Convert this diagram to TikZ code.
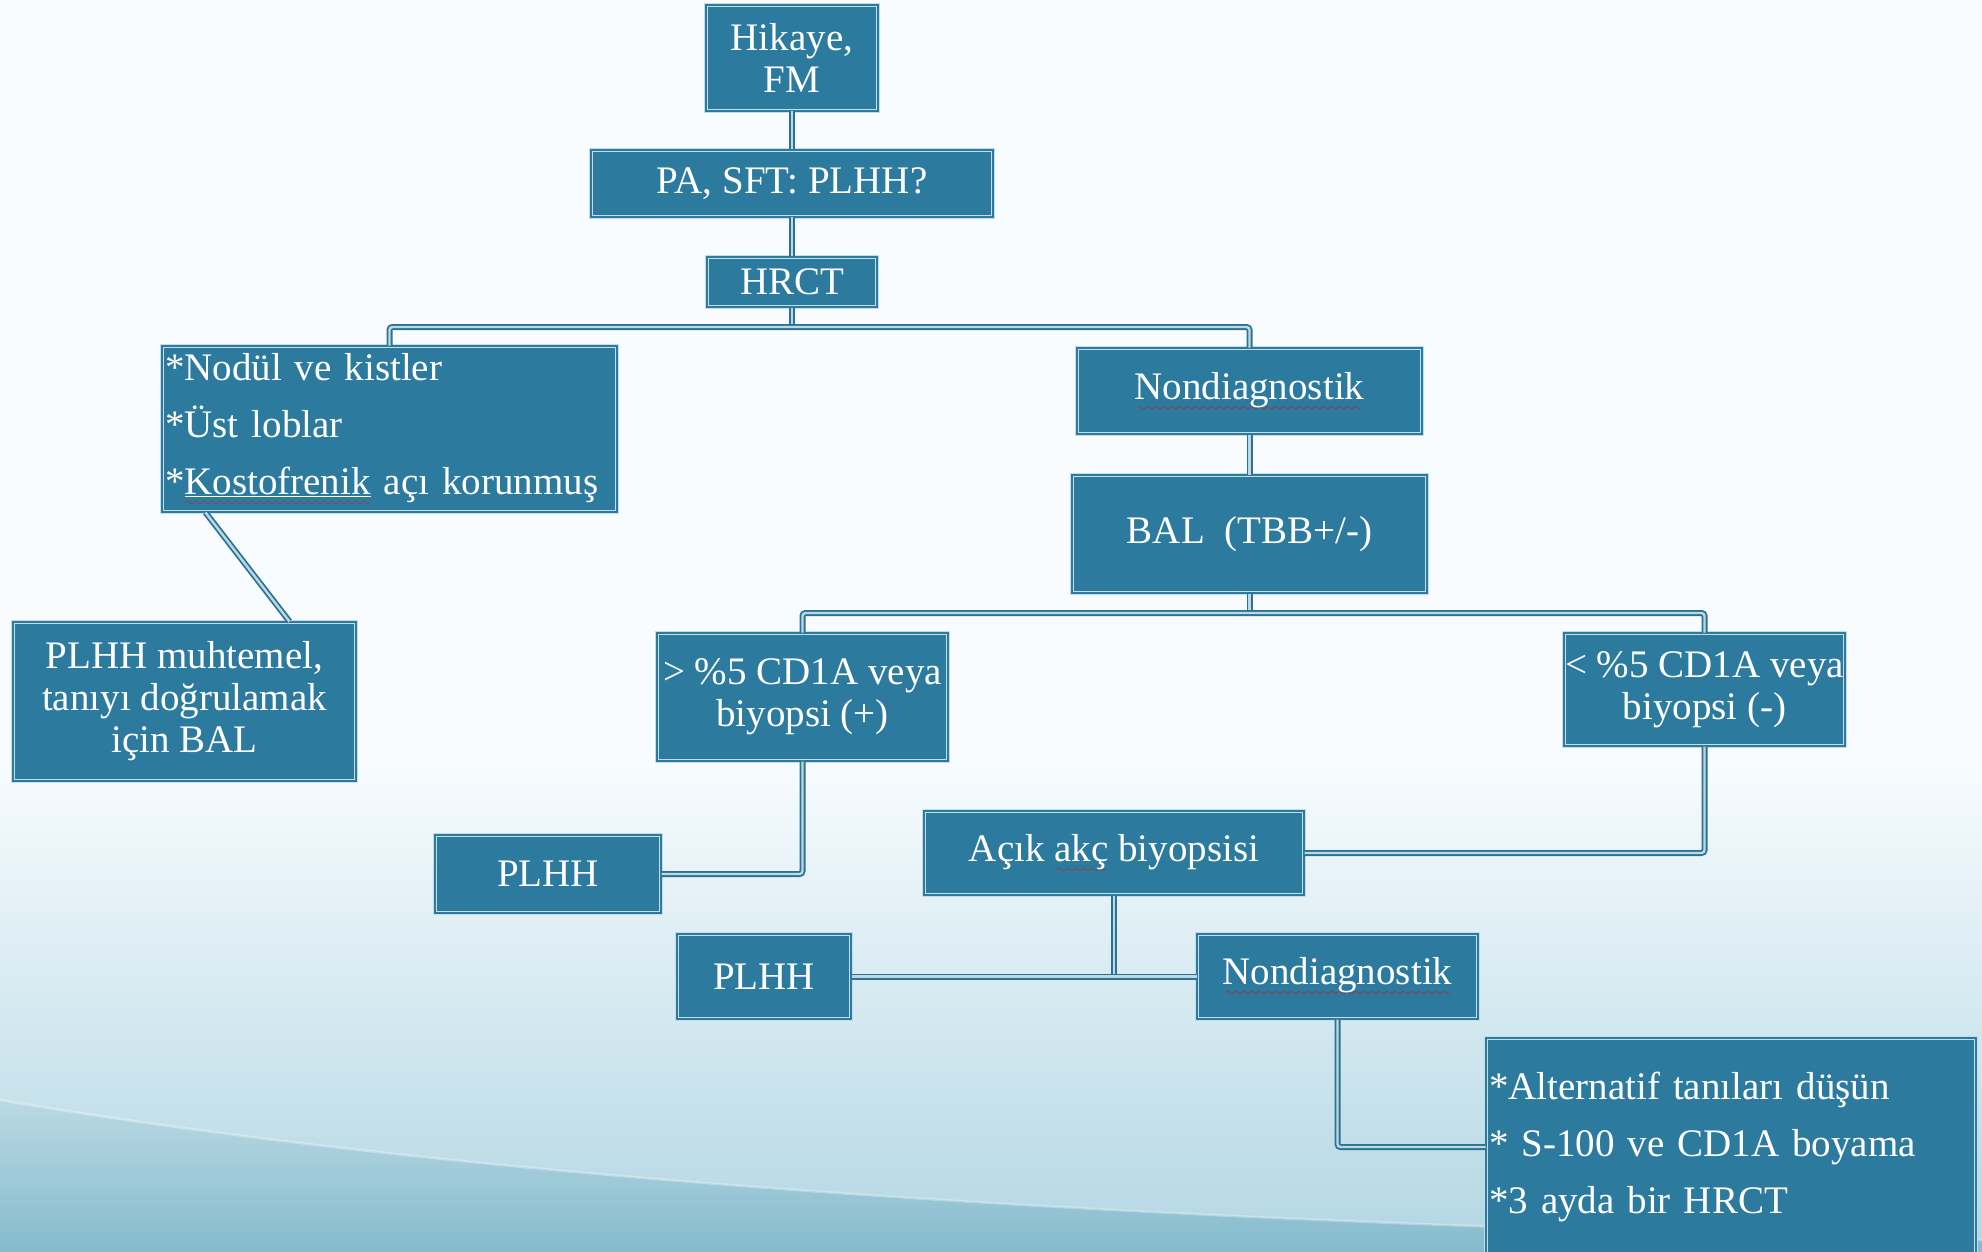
\documentclass[tikz,border=0pt]{standalone}
\usepackage{fontspec}
\setmainfont{Liberation Serif}
\font\mywavefont=lasy6 scaled 1600
\newsavebox\wvbox
\newcommand\wavy[1]{\sbox\wvbox{#1}\rlap{\lower11pt\hbox to \wd\wvbox{\color{red}\cleaders\hbox{\mywavefont\char58}\hfil}}\usebox\wvbox}
\definecolor{boxblue}{RGB}{44,122,158}
\definecolor{edge}{RGB}{195,222,234}
\definecolor{connblue}{RGB}{44,114,146}
\definecolor{connlight}{RGB}{188,216,228}
\definecolor{bgtop}{RGB}{248,252,254}
\definecolor{bgbot}{RGB}{178,214,227}
\definecolor{swa}{RGB}{182,215,226}
\definecolor{swb}{RGB}{118,178,198}
\tikzset{
  bx/.style={rectangle, fill=boxblue, draw=edge, double=boxblue, line width=1pt,
    double distance=2pt, text=white, inner sep=0pt, align=center,
    font=\fontsize{39}{42}\selectfont},
  cn/.style={draw=connblue, double=connlight, line width=1.8pt, double distance=2.4pt,
    rounded corners=3pt},
}
\begin{document}
\begin{tikzpicture}[x=1pt,y=-1pt]
\clip (0,0) rectangle (1982,1252);
% background
\fill[bgtop] (0,0) rectangle (1982,1252);
\shade[top color=bgtop, bottom color=bgbot] (0,760) rectangle (1982,1252);
\shade[top color=swa, bottom color=swb, opacity=0.75] (0,1100) .. controls (500,1185) and (1200,1225) .. (1982,1240) -- (1982,1252) -- (0,1252) -- cycle;
\draw[white, opacity=0.3, line width=2.5pt] (0,1100) .. controls (500,1185) and (1200,1225) .. (1982,1240);

% nodes
\node[bx, minimum width=172pt, minimum height=106pt] (hik) at (792,58) {Hikaye,\\FM};
\node[bx, minimum width=402pt, minimum height=67pt] (pa) at (792,183.5) {PA, SFT: PLHH?};
\node[bx, minimum width=170pt, minimum height=50pt] (hrct) at (792,282) {HRCT};
\node[bx, minimum width=455pt, minimum height=166pt, text width=449pt, align=left,
  font=\fontsize{39}{57}\selectfont] (nod) at (389.5,429)
  {*Nodül ve kistler\\{*}Üst loblar\\{*}\wavy{\underline{Kostofrenik}} açı korunmuş};
\node[bx, minimum width=345pt, minimum height=86pt] (nd1) at (1249.5,391) {\wavy{Nondiagnostik}};
\node[bx, minimum width=355pt, minimum height=118pt] (bal) at (1249.5,534) {BAL\ \ (TBB+/-)};
\node[bx, minimum width=343pt, minimum height=159pt] (pm) at (184.5,701.5) {PLHH muhtemel,\\tanıyı doğrulamak\\için BAL};
\node[bx, minimum width=291pt, minimum height=128pt] (gt) at (802.5,697) {> \%5 CD1A veya\\biyopsi (+)};
\node[bx, minimum width=281pt, minimum height=113pt] (lt) at (1704.5,689.5) {< \%5 CD1A veya\\biyopsi (-)};
\node[bx, minimum width=226pt, minimum height=78pt] (plhha) at (548,874) {PLHH};
\node[bx, minimum width=380pt, minimum height=84pt] (acik) at (1114,853) {Açık \wavy{akç} biyopsisi};
\node[bx, minimum width=174pt, minimum height=85pt] (plhhb) at (764,976.5) {PLHH};
\node[bx, minimum width=281pt, minimum height=85pt] (nd2) at (1337.5,976.5) {\wavy{Nondiagnostik}};
\node[bx, minimum width=490pt, minimum height=218pt, text width=484pt, align=left,
  font=\fontsize{39}{57}\selectfont] (alt) at (1731,1147)
  {*Alternatif tanıları düşün\\{*} S-100 ve CD1A boyama\\{*}3 ayda bir HRCT};

% junctions
\coordinate (j1) at (792,327);
\coordinate (j2) at (1249.5,613);
\coordinate (j3) at (1114,976.5);

% connectors
\draw[cn] (hik.south) -- (pa.north);
\draw[cn] (pa.south) -- (hrct.north);
\draw[cn] (hrct.south) -- (j1);
\draw[cn] (nod.north) |- (j1) -| (nd1.north);
\draw[cn] (nd1.south) -- (bal.north);
\draw[cn] (bal.south) -- (j2);
\draw[cn] (gt.north) |- (j2) -| (lt.north);
\draw[cn] ([xshift=44pt]nod.south west) -- ([xshift=-67pt]pm.north east);
\draw[cn] (gt.south) |- (plhha.east);
\draw[cn] (lt.south) |- (acik.east);
\draw[cn] (acik.south) -- (j3);
\draw[cn] (plhhb.east) -- (nd2.west);
\draw[cn] (nd2.south) |- (alt.west);
\end{tikzpicture}
\end{document}
